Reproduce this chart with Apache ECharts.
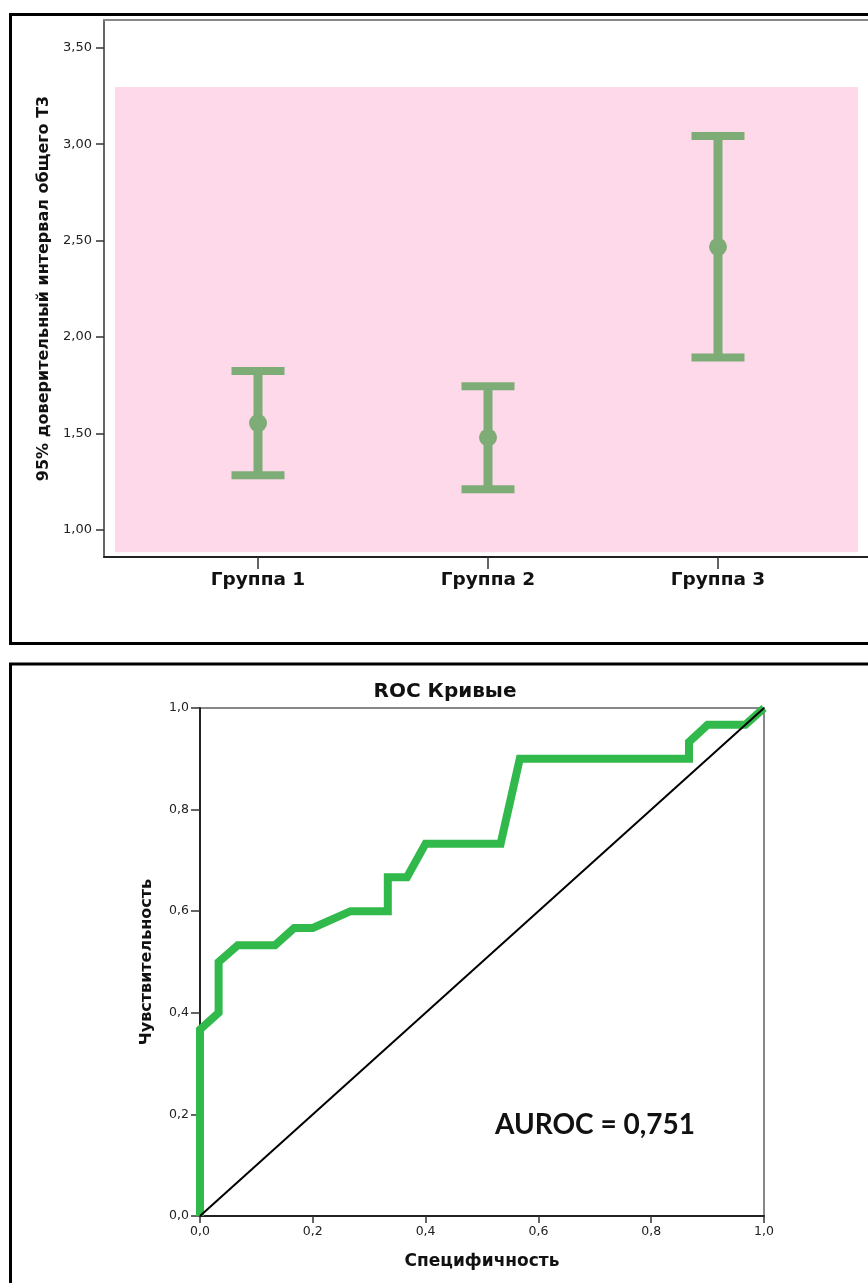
<!DOCTYPE html>
<html><head><meta charset="utf-8">
<script src="https://cdn.jsdelivr.net/npm/echarts@6/dist/echarts.min.js"></script>
<style>html,body{margin:0;padding:0;background:#fff;}#c{width:868px;height:1283px;}</style>
</head><body><div id="c"></div>
<script>
// ---- Panel 1: 95% CI of total T3 ----
const groups = ['Группа 1', 'Группа 2', 'Группа 3'];
const groupPos = [1, 2, 3];
const ciMean = [1.553, 1.478, 2.467];
const ciLow = [1.282, 1.209, 1.893];
const ciHigh = [1.823, 1.744, 3.042];
const ciTicks = [1.0, 1.5, 2.0, 2.5, 3.0, 3.5];
const ciBand = [[0.378, 0.882, 3.609, 3.296]]; // background band: x0, y0, x1, y1 (data units)

// ---- Panel 2: ROC curve ----
const rocX = [0, 0, 0.033, 0.033, 0.067, 0.133, 0.167, 0.2, 0.267, 0.333, 0.333, 0.367, 0.4, 0.533, 0.567, 0.867, 0.867, 0.9, 0.967, 1.0];
const rocY = [0, 0.367, 0.4, 0.5, 0.533, 0.533, 0.567, 0.567, 0.6, 0.6, 0.667, 0.667, 0.733, 0.733, 0.9, 0.9, 0.933, 0.967, 0.967, 1.0];
const diagX = [0, 1];
const diagY = [0, 1];
const rocTicks = [0, 0.2, 0.4, 0.6, 0.8, 1.0];
const aurocText = 'AUROC = 0,751';

const GREEN_CI = '#7eac76';
const PINK = '#fdd9ea';
const GREEN_ROC = '#31b94c';
const FONT = 'DejaVu Sans';

const chart = echarts.init(document.getElementById('c'), null, {renderer: 'canvas'});

const ciData = groupPos.map((p, i) => [p, ciLow[i], ciHigh[i], ciMean[i]]);
const rocData = rocX.map((x, i) => [x, rocY[i]]);
const diagData = diagX.map((x, i) => [x, diagY[i]]);

const comma = (v, d) => v.toFixed(d).replace('.', ',');
const X1_MIN = 0.3304, X1_MAX = 3.6522;

chart.setOption({
  animation: false,
  backgroundColor: '#fff',
  grid: [
    {left: 104, top: 20, right: 0, bottom: 726, show: true, borderWidth: 0, backgroundColor: '#fff'},
    {left: 200, top: 708, right: 104, bottom: 67, show: true, borderColor: '#888', borderWidth: 2, backgroundColor: '#fff'}
  ],
  xAxis: [
    {
      gridIndex: 0, type: 'value', min: X1_MIN, max: X1_MAX,
      axisLine: {show: true, lineStyle: {color: '#222', width: 2}},
      axisTick: {show: true, customValues: groupPos, length: 12, lineStyle: {color: '#333', width: 1.5}},
      axisLabel: {customValues: groupPos, margin: 14, formatter: v => groups[groupPos.indexOf(Math.round(v))],
        fontFamily: FONT, fontWeight: 'bold', fontSize: 18.5, color: '#111'},
      splitLine: {show: false}
    },
    {
      gridIndex: 1, type: 'value', min: 0, max: 1, interval: 0.2,
      name: 'Специфичность', nameLocation: 'middle', nameGap: 37,
      nameTextStyle: {fontFamily: FONT, fontWeight: 'bold', fontSize: 17, color: '#111'},
      axisLine: {show: true, lineStyle: {color: '#222', width: 2}},
      axisTick: {show: true, customValues: rocTicks, length: 7, lineStyle: {color: '#333', width: 1.5}},
      axisLabel: {customValues: rocTicks, margin: 9, formatter: v => comma(v, 1), fontFamily: FONT, fontSize: 12.5, color: '#222'},
      splitLine: {show: false}
    },
    {
      gridIndex: 0, type: 'value', position: 'top', min: X1_MIN, max: X1_MAX,
      axisLine: {show: true, lineStyle: {color: '#888', width: 2}},
      axisTick: {show: false}, axisLabel: {show: false}, splitLine: {show: false}
    }
  ],
  yAxis: [
    {
      gridIndex: 0, type: 'value', min: 0.858, max: 3.644,
      name: '95% доверительный интервал общего T3', nameLocation: 'middle', nameGap: 50,
      nameTextStyle: {fontFamily: FONT, fontWeight: 'bold', fontSize: 16, color: '#111'},
      axisLine: {show: true, lineStyle: {color: '#666', width: 2}},
      axisTick: {show: true, customValues: ciTicks, length: 8, lineStyle: {color: '#333', width: 1.5}},
      axisLabel: {customValues: ciTicks, margin: 12, formatter: v => comma(v, 2), fontFamily: FONT, fontSize: 13, color: '#222'},
      splitLine: {show: false}
    },
    {
      gridIndex: 1, type: 'value', min: 0, max: 1, interval: 0.2,
      name: 'Чувствительность', nameLocation: 'middle', nameGap: 45,
      nameTextStyle: {fontFamily: FONT, fontWeight: 'bold', fontSize: 16, color: '#111'},
      axisLine: {show: true, lineStyle: {color: '#222', width: 2}},
      axisTick: {show: true, customValues: rocTicks, length: 9, lineStyle: {color: '#333', width: 1.5}},
      axisLabel: {customValues: rocTicks, margin: 11, formatter: v => comma(v, 1), fontFamily: FONT, fontSize: 12.5, color: '#222'},
      splitLine: {show: false}
    }
  ],
  series: [
    {
      type: 'custom', xAxisIndex: 0, yAxisIndex: 0, z: 1, silent: true,
      data: ciBand,
      encode: {x: [0, 2], y: [1, 3]},
      renderItem: (params, api) => {
        const p0 = api.coord([api.value(0), api.value(1)]);
        const p1 = api.coord([api.value(2), api.value(3)]);
        return {type: 'rect', shape: {x: p0[0], y: p1[1], width: p1[0] - p0[0], height: p0[1] - p1[1]}, style: {fill: PINK}};
      }
    },
    {
      type: 'custom', xAxisIndex: 0, yAxisIndex: 0, z: 3,
      data: ciData,
      encode: {x: 0, y: [1, 2, 3]},
      renderItem: (params, api) => {
        const x = api.value(0);
        const pLo = api.coord([x, api.value(1)]);
        const pHi = api.coord([x, api.value(2)]);
        const pM = api.coord([x, api.value(3)]);
        const half = 26.5, capH = 8;
        return {
          type: 'group',
          children: [
            {type: 'rect', shape: {x: pLo[0] - 4.5, y: pHi[1], width: 9, height: pLo[1] - pHi[1]}, style: {fill: GREEN_CI}},
            {type: 'rect', shape: {x: pHi[0] - half, y: pHi[1] - capH / 2, width: half * 2, height: capH}, style: {fill: GREEN_CI}},
            {type: 'rect', shape: {x: pLo[0] - half, y: pLo[1] - capH / 2, width: half * 2, height: capH}, style: {fill: GREEN_CI}},
            {type: 'circle', shape: {cx: pM[0], cy: pM[1], r: 9}, style: {fill: GREEN_CI}}
          ]
        };
      }
    },
    {
      type: 'line', xAxisIndex: 1, yAxisIndex: 1, z: 2,
      data: rocData, symbol: 'none',
      lineStyle: {color: GREEN_ROC, width: 8, join: 'miter'}
    },
    {
      type: 'line', xAxisIndex: 1, yAxisIndex: 1, z: 3,
      data: diagData, symbol: 'none',
      lineStyle: {color: '#000', width: 2}
    }
  ],
  graphic: [
    {type: 'rect', silent: true, shape: {x: 10.5, y: 14.5, width: 900, height: 629}, style: {fill: 'none', stroke: '#000', lineWidth: 3}},
    {type: 'rect', silent: true, shape: {x: 10.5, y: 664, width: 900, height: 700}, style: {fill: 'none', stroke: '#000', lineWidth: 3}},
    {type: 'text', x: 445, y: 692, silent: true, style: {text: 'ROC Кривые', font: 'bold 20px "DejaVu Sans"', fill: '#111', align: 'center', verticalAlign: 'middle'}},
    {type: 'text', x: 495, y: 1125, silent: true, style: {text: aurocText, font: 'bold 28px Lato', fill: '#111', align: 'left', verticalAlign: 'middle'}}
  ]
});
</script>
</body></html>
